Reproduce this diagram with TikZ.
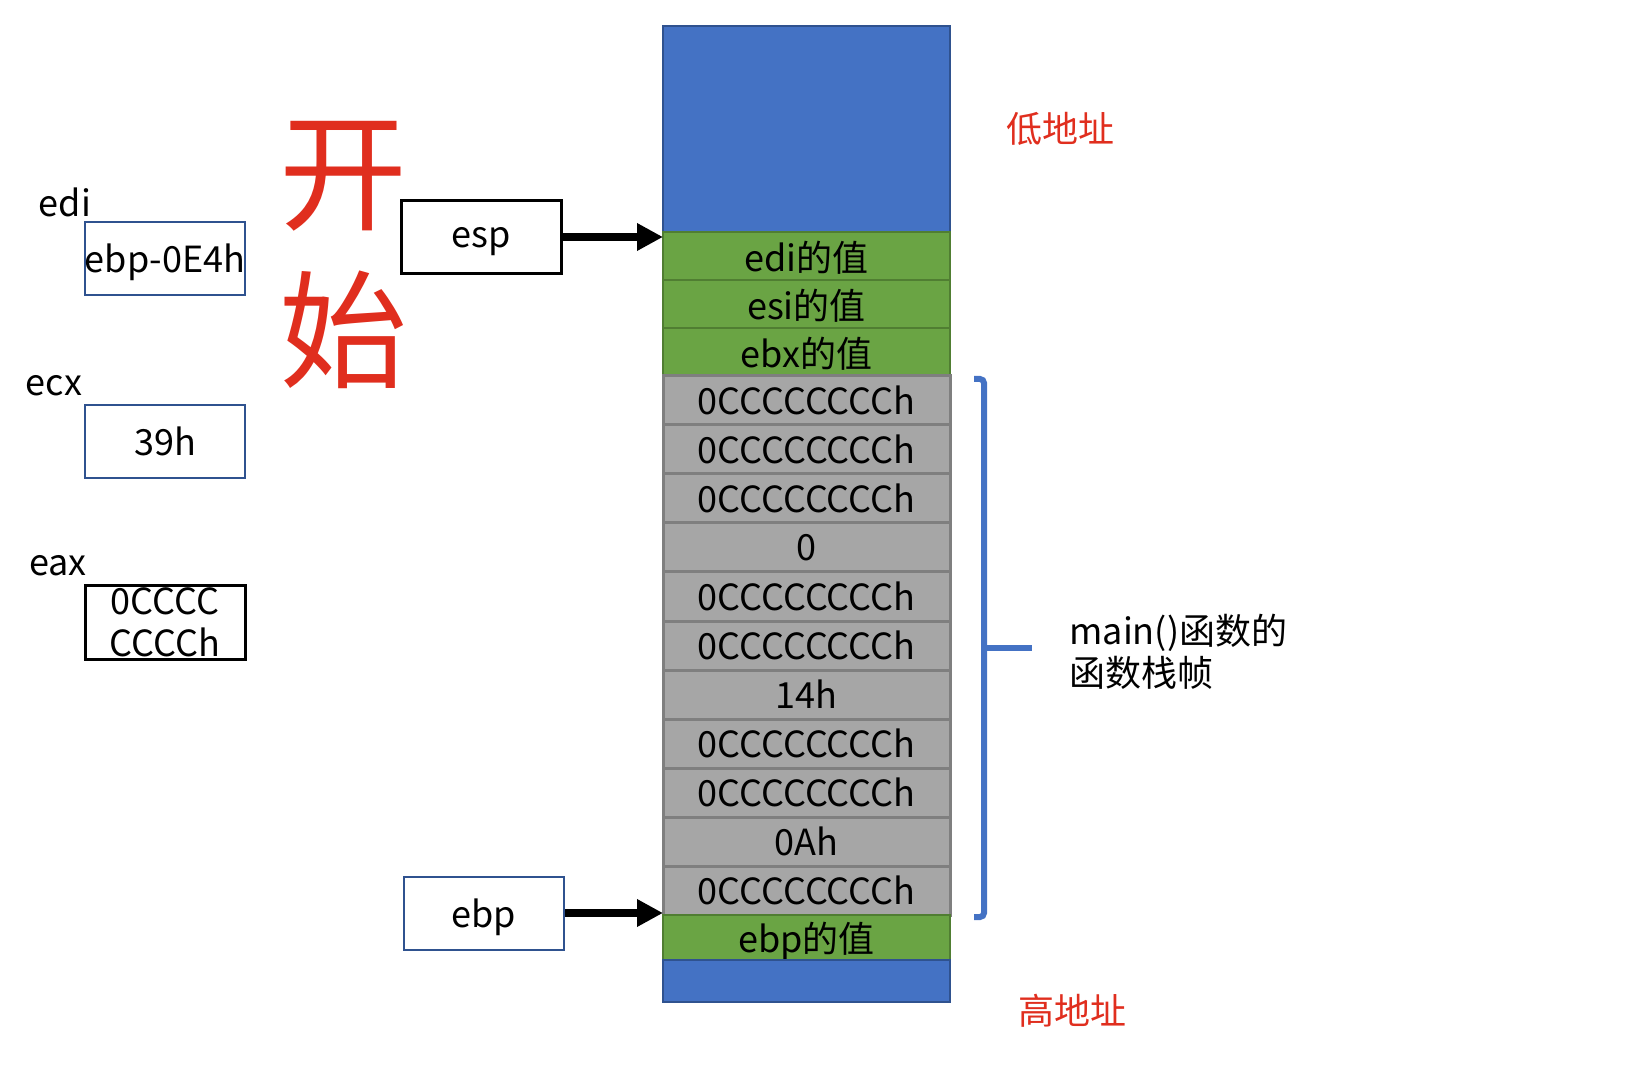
\documentclass[tikz,border=0pt]{standalone}
\usepackage{fontspec}
\setmainfont{Noto Sans CJK SC}
\usetikzlibrary{positioning,arrows.meta}
\definecolor{stackblue}{HTML}{4472C4}
\definecolor{stackline}{HTML}{2F528F}
\definecolor{valgreen}{HTML}{6AA444}
\definecolor{valline}{HTML}{507E32}
\definecolor{ccgray}{HTML}{A6A6A6}
\definecolor{ccline}{HTML}{7F7F7F}
\definecolor{hot}{HTML}{E02E1E}
\newcommand{\txt}{\fontsize{18}{21}\selectfont}
\newcommand{\reg}[5]
{
	\node[regname] (#1name) at (#2) {#1};
	\node[regbox,#4] (#1box) at (#3) {#5};
}

\begin{document}
\begin{tikzpicture}[x=0.5pt,y=-0.5pt,
	regname/.style={inner sep=0pt,font=\txt},
	regbox/.style={draw=stackline,line width=1pt,minimum width=80pt,minimum height=36.5pt,inner sep=0pt,align=center,font=\txt,text depth=0pt},
	cell/.style={minimum width=143.5pt,inner sep=0pt,outer sep=0pt,anchor=north,font=\txt,text depth=0pt},
	blueblk/.style={cell,fill=stackblue,draw=stackline,line width=1pt},
	greencell/.style={cell,fill=valgreen,draw=valline,line width=1pt,minimum height=24pt},
	graycell/.style={cell,fill=ccgray,draw=ccline,line width=1.5pt,minimum height=24.5pt},
	hotlabel/.style={text=hot,inner sep=0pt,font=\txt},
	big/.style={text=hot,inner sep=0pt,font=\fontsize{64}{64}\selectfont},
	ptr/.style={-{Triangle[length=13pt,width=13pt]},line width=4pt},
	brace/.style={draw=stackblue,line width=3pt,rounded corners=2pt}]
	\useasboundingbox (0,0) rectangle (1650,1080);
	% registers
	\reg{edi}{65,202}{165,258.5}{}{ebp-0E4h}
	\reg{ecx}{54,386}{165,441.5}{}{39h}
	\reg{eax}{58,566}{165,622.5}{draw=black,line width=1.5pt}{0CCCC\\CCCCh}
	\node[big] (kai) at (343,176) {开};
	\node[big] (shi) at (343,330) {始};
	% stack
	\node[blueblk,minimum height=103pt] (lowblk) at (806.5,26) {};
	\node[greencell,below=0pt of lowblk] (edi) {edi的值};
	\node[greencell,below=0pt of edi] (esi) {esi的值};
	\node[greencell,below=0pt of esi] (ebx) {ebx的值};
	\foreach \v [count=\i] in {0CCCCCCCCh,0CCCCCCCCh,0CCCCCCCCh,0,0CCCCCCCCh,0CCCCCCCCh,14h,0CCCCCCCCh,0CCCCCCCCh,0Ah,0CCCCCCCCh}
		\node[graycell] (g\i) at (806.5,{327+49*\i}) {\v};
	\node[greencell,minimum height=22.5pt,below=0pt of g11] (ebp) {ebp的值};
	\node[blueblk,minimum height=21pt,below=0pt of ebp] (highblk) {};
	% pointers
	\node[regbox,draw=black,line width=1.5pt] (espreg) at (481.5,237) {esp};
	\node[regbox] (ebpreg) at (484,913) {ebp};
	\draw[ptr] (espreg.east) -- (espreg.east -| edi.west);
	\draw[ptr] (ebpreg.east) -- (ebpreg.east -| ebp.west);
	% frame
	\draw[brace] (974,379) -- (984,379) -- (984,917) -- (974,917);
	\draw[brace] (984,648) -- (1032,648);
	\node[anchor=west,align=left,inner sep=0pt,font=\txt] (frame) at (1069,652) {main()函数的\\函数栈帧};
	\node[hotlabel] (low) at (1060,129) {低地址};
	\node[hotlabel] (high) at (1072,1011) {高地址};
\end{tikzpicture}
\end{document}
